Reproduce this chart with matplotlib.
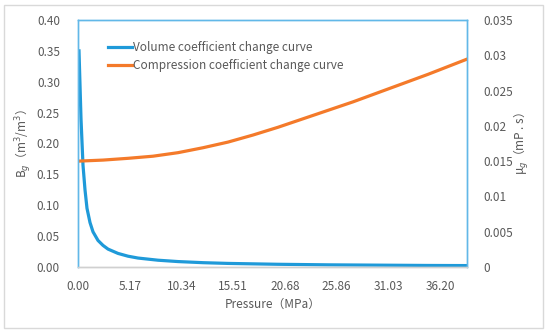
import matplotlib
matplotlib.use("Agg")
import matplotlib.pyplot as plt

plt.rcParams['font.family'] = ['Noto Sans CJK SC', 'DejaVu Sans']

# volume coefficient Bg (left axis)
p_bg = [0.1, 0.3, 0.5, 0.7, 0.9, 1.2, 1.5, 2.0, 2.5, 3.0, 4.0, 5.0, 6.0,
        8.0, 10.0, 12.5, 15.0, 20.0, 25.0, 30.0, 35.0, 38.8]
bg = [0.35, 0.24, 0.165, 0.125, 0.095, 0.072, 0.057, 0.043, 0.035, 0.029,
      0.022, 0.0175, 0.0145, 0.011, 0.0088, 0.007, 0.0058, 0.0044, 0.0035,
      0.003, 0.0025, 0.0023]

# viscosity mu_g (right axis)
p_mu = [0, 2.5, 5, 7.5, 10, 12.5, 15, 17.5, 20, 22.5, 25, 27.5, 30, 32.5, 35, 38.8]
mu = [0.0150, 0.01515, 0.0154, 0.0157, 0.0162, 0.0169, 0.0177, 0.0187,
      0.0198, 0.0210, 0.0222, 0.0234, 0.0247, 0.0260, 0.0273, 0.0294]

xticks = [0.00, 5.17, 10.34, 15.51, 20.68, 25.86, 31.03, 36.20]
left_ticks = [0.00, 0.05, 0.10, 0.15, 0.20, 0.25, 0.30, 0.35, 0.40]
right_ticks = [0, 0.005, 0.01, 0.015, 0.02, 0.025, 0.03, 0.035]
right_labels = ['0', '0.005', '0.01', '0.015', '0.02', '0.025', '0.03', '0.035']

blue = '#1f9ad9'
orange = '#f47a2a'
grey = '#595959'
frame = '#62b8e8'

fig = plt.figure(figsize=(5.5, 3.33), dpi=100)
ax = fig.add_axes([78/550, 1-267/333, (467-78)/550, (267-20)/333])
ax2 = ax.twinx()

l1, = ax.plot(p_bg, bg, color=blue, lw=2.3, label='Volume coefficient change curve')
l2, = ax2.plot(p_mu, mu, color=orange, lw=2.3, label='Compression coefficient change curve')

ax.set_xlim(0, 38.9)
ax.set_ylim(0, 0.40)
ax2.set_ylim(0, 0.035)

ax.set_xticks(xticks)
ax.set_xticklabels(['%.2f' % v for v in xticks])
ax.set_yticks(left_ticks)
ax.set_yticklabels(['%.2f' % v for v in left_ticks])
ax2.set_yticks(right_ticks)
ax2.set_yticklabels(right_labels)

for a in (ax, ax2):
    a.tick_params(length=0, labelsize=8.5, labelcolor=grey, pad=6)
    for s in a.spines.values():
        s.set_color(frame)
        s.set_linewidth(1.0)
    a.spines['bottom'].set_color('#d0d0d0')
ax.tick_params(axis='x', pad=9)
ax.tick_params(axis='y', pad=13)
ax2.tick_params(axis='y', pad=12)

ax.set_xlabel('Pressure（MPa）', color=grey, fontsize=8.5, labelpad=4)
ax.set_ylabel('B$_g$（m$^3$/m$^3$）', color=grey, fontsize=8.5, labelpad=2)
ax2.set_ylabel('μ$_g$（mP . s）', color=grey, fontsize=8.5, rotation=90, labelpad=-1)

ax.legend(handles=[l1, l2], loc='upper left', bbox_to_anchor=(0.065, 0.935),
          frameon=False, fontsize=8.5, labelcolor=grey, handlelength=2.0,
          handletextpad=0.1, labelspacing=0.45, borderaxespad=0)

# outer light border of the figure
fig.patches.append(plt.Rectangle((4/550, 1-328/333), 539/550, 323/333,
                                 transform=fig.transFigure, fill=False,
                                 edgecolor='#d9d9d9', lw=1))

fig.savefig('out.png', dpi=100)
